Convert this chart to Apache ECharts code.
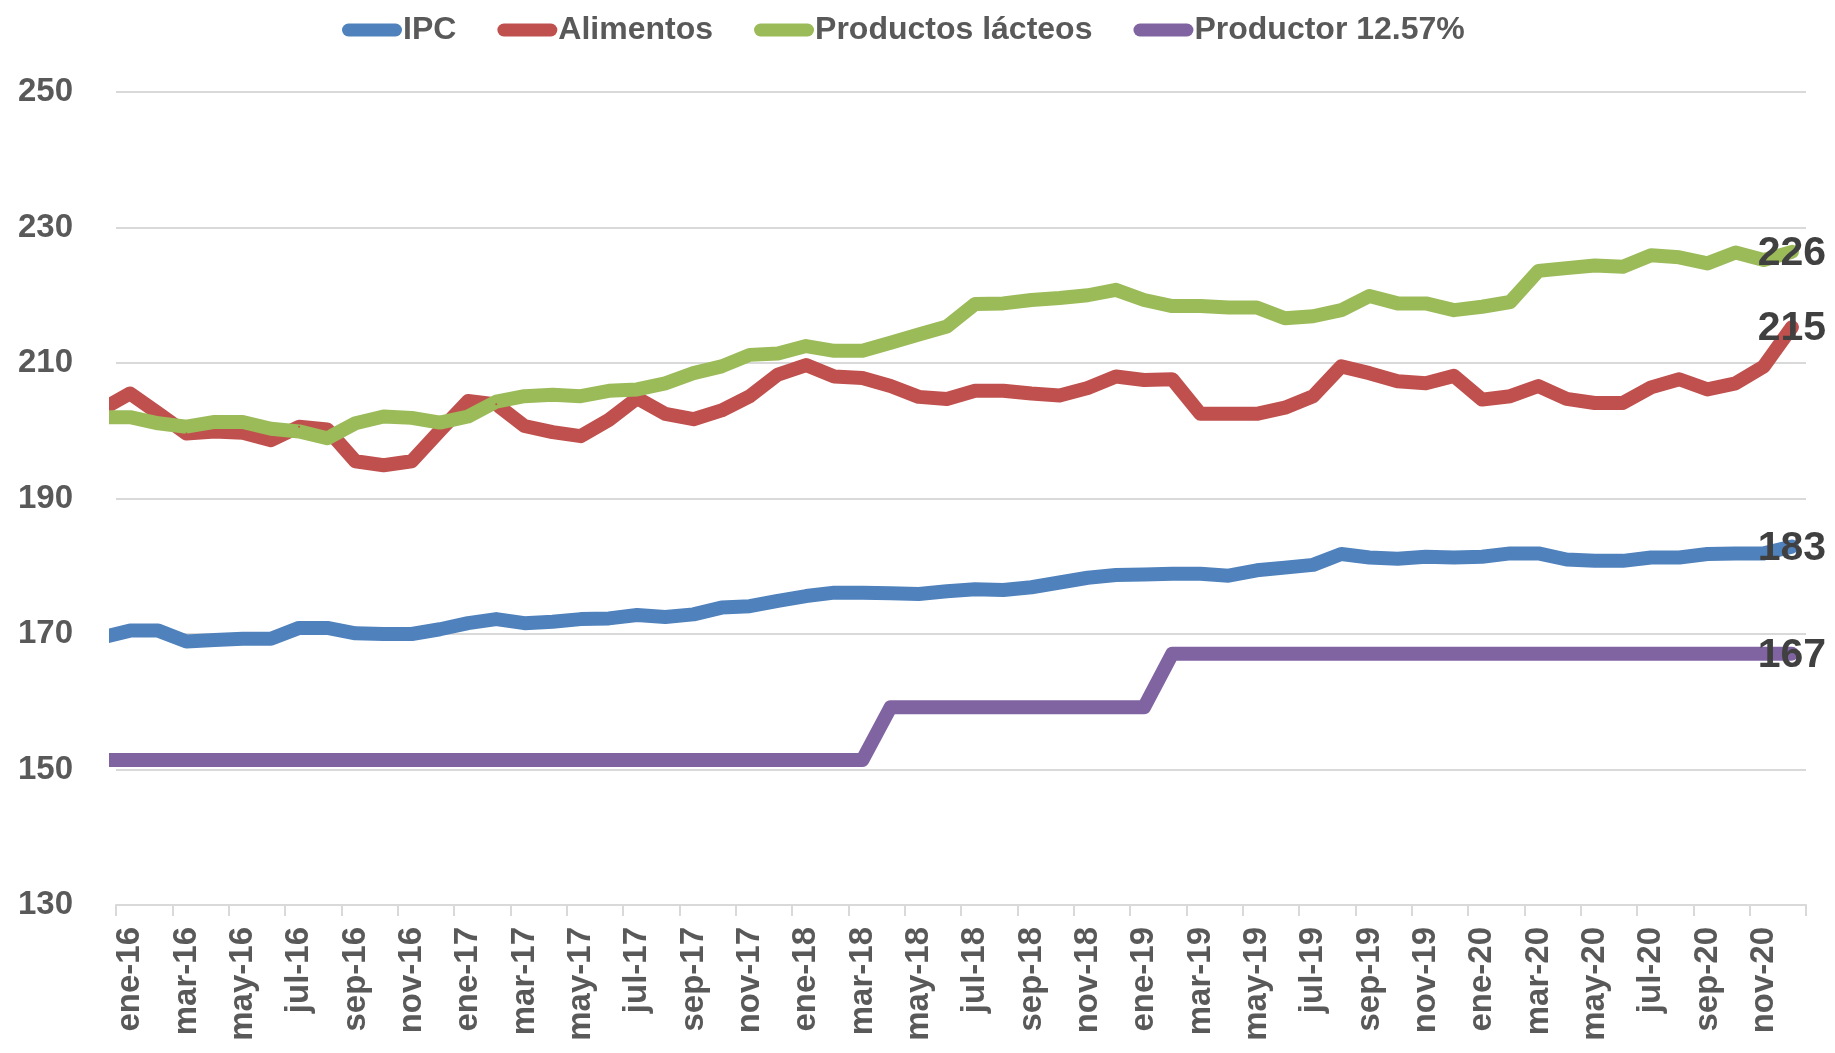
<!DOCTYPE html>
<html>
<head>
<meta charset="utf-8">
<script src="https://cdn.jsdelivr.net/npm/echarts@6/dist/echarts.min.js"></script>
<style>
html,body{margin:0;padding:0;background:#fff;}
#chart{width:1835px;height:1053px;}
</style>
</head>
<body>
<div id="chart"></div>
<script>
const categories = [
 'ene-16','feb-16','mar-16','abr-16','may-16','jun-16','jul-16','ago-16','sep-16','oct-16','nov-16','dic-16',
 'ene-17','feb-17','mar-17','abr-17','may-17','jun-17','jul-17','ago-17','sep-17','oct-17','nov-17','dic-17',
 'ene-18','feb-18','mar-18','abr-18','may-18','jun-18','jul-18','ago-18','sep-18','oct-18','nov-18','dic-18',
 'ene-19','feb-19','mar-19','abr-19','may-19','jun-19','jul-19','ago-19','sep-19','oct-19','nov-19','dic-19',
 'ene-20','feb-20','mar-20','abr-20','may-20','jun-20','jul-20','ago-20','sep-20','oct-20','nov-20','dic-20'
];
const seriesNames = ['IPC', 'Alimentos', 'Productos lácteos', 'Productor 12.57%'];
// value of the month before the first category (dic-15), partly visible at the left edge
const prevMonth = [169.5, 203.2, 202.0, 151.4];
const ipc = [
 170.5,170.5,168.9,169.1,169.3,169.3,170.9,170.9,170.1,170.0,170.0,170.7,
 171.6,172.2,171.6,171.8,172.2,172.3,172.8,172.5,172.9,173.9,174.1,174.9,
 175.6,176.1,176.1,176.0,175.9,176.3,176.6,176.5,176.9,177.6,178.3,178.7,
 178.8,178.9,178.9,178.6,179.4,179.8,180.2,181.8,181.3,181.1,181.4,181.3,
 181.4,181.9,181.9,181.0,180.8,180.8,181.3,181.3,181.8,181.9,181.9,182.9
];
const alimentos = [
 205.5,202.6,199.6,199.9,199.7,198.6,200.6,200.2,195.5,194.9,195.5,200.0,
 204.4,203.9,200.7,199.8,199.2,201.6,204.8,202.5,201.7,203.0,205.1,208.3,
 209.7,208.0,207.8,206.6,205.0,204.7,205.9,205.9,205.5,205.2,206.3,208.0,
 207.5,207.6,202.5,202.5,202.5,203.4,205.1,209.5,208.5,207.3,207.0,208.1,
 204.6,205.1,206.6,204.7,204.1,204.1,206.4,207.6,206.1,207.0,209.5,215.3
];
const lacteos = [
 202.0,201.1,200.6,201.3,201.3,200.3,199.9,198.9,201.1,202.1,201.9,201.2,
 202.1,204.3,205.1,205.3,205.1,205.9,206.1,207.0,208.5,209.5,211.2,211.4,
 212.5,211.8,211.8,213.0,214.2,215.4,218.7,218.8,219.3,219.6,220.0,220.8,
 219.3,218.4,218.4,218.2,218.2,216.6,216.9,217.8,219.9,218.8,218.8,217.8,
 218.3,219.0,223.6,224.0,224.4,224.2,225.9,225.6,224.7,226.3,225.2,226.4
];
const productor = [
 151.4,151.4,151.4,151.4,151.4,151.4,151.4,151.4,151.4,151.4,151.4,151.4,
 151.4,151.4,151.4,151.4,151.4,151.4,151.4,151.4,151.4,151.4,151.4,151.4,
 151.4,151.4,151.4,159.2,159.2,159.2,159.2,159.2,159.2,159.2,159.2,159.2,
 159.2,167.1,167.1,167.1,167.1,167.1,167.1,167.1,167.1,167.1,167.1,167.1,
 167.1,167.1,167.1,167.1,167.1,167.1,167.1,167.1,167.1,167.1,167.1,167.1
];
const yTicks = {min: 130, max: 250, interval: 20};
const colors = ['#4f81bd', '#c0504d', '#9bbb59', '#8064a2'];
const FONT = '"Liberation Sans", Arial, sans-serif';

const allValues = [ipc, alimentos, lacteos, productor];

function buildData(arr, prev) {
  const d = [[-1, prev]];
  arr.forEach((v, i) => {
    if (i === arr.length - 1) {
      d.push({value: [i, v], label: {show: true}});
    } else {
      d.push([i, v]);
    }
  });
  return d;
}

const chart = echarts.init(document.getElementById('chart'), null, {renderer: 'canvas'});
const option = {
  animation: false,
  backgroundColor: '#ffffff',
  color: colors,
  legend: {
    top: 9,
    left: 337,
    itemGap: 41,
    itemWidth: 60,
    itemHeight: 13,
    icon: 'path://M6.5,0 L53.5,0 A6.5,6.5 0 0 1 53.5,13 L6.5,13 A6.5,6.5 0 0 1 6.5,0 Z',
    itemStyle: {opacity: 1, borderWidth: 0},
    textStyle: {fontFamily: FONT, fontWeight: 'bold', fontSize: 32, color: '#595959', padding: [0,0,0,-4]},
    data: seriesNames
  },
  grid: {left: 116, right: 29, top: 92, bottom: 148, containLabel: false},
  xAxis: [
    {
      type: 'category',
      data: categories,
      boundaryGap: true,
      position: 'bottom',
      axisLine: {show: true, lineStyle: {color: '#d9d9d9', width: 2}},
      axisTick: {show: true, interval: 1, length: 11, lineStyle: {color: '#d9d9d9', width: 2}},
      axisLabel: {
        interval: 1, rotate: 90, margin: 22,
        fontFamily: FONT, fontWeight: 'bold', fontSize: 33, color: '#595959'
      },
      splitLine: {show: false}
    },
    {
      type: 'value',
      min: -0.5,
      max: 59.5,
      show: false,
      splitLine: {show: false}
    }
  ],
  yAxis: {
    type: 'value',
    min: yTicks.min,
    max: yTicks.max,
    interval: yTicks.interval,
    axisLine: {show: false},
    axisTick: {show: false},
    axisLabel: {margin: 43, fontFamily: FONT, fontWeight: 'bold', fontSize: 33, color: '#595959'},
    splitLine: {lineStyle: {color: '#d9d9d9', width: 2}}
  },
  series: seriesNames.map((name, k) => ({
    name: name,
    type: 'line',
    xAxisIndex: 1,
    clip: true,
    symbol: 'circle',
    symbolSize: 2,
    showSymbol: true,
    showAllSymbol: true,
    itemStyle: {color: colors[k]},
    lineStyle: {color: colors[k], width: 14, cap: 'round', join: 'round'},
    label: {
      show: false,
      position: 'inside',
      offset: [0, 2],
      fontFamily: FONT, fontWeight: 'bold', fontSize: 41, color: '#404040',
      formatter: p => String(Math.round(p.value[1]))
    },
    emphasis: {disabled: true},
    data: buildData(allValues[k], prevMonth[k])
  }))
};
chart.setOption(option);
</script>
</body>
</html>
